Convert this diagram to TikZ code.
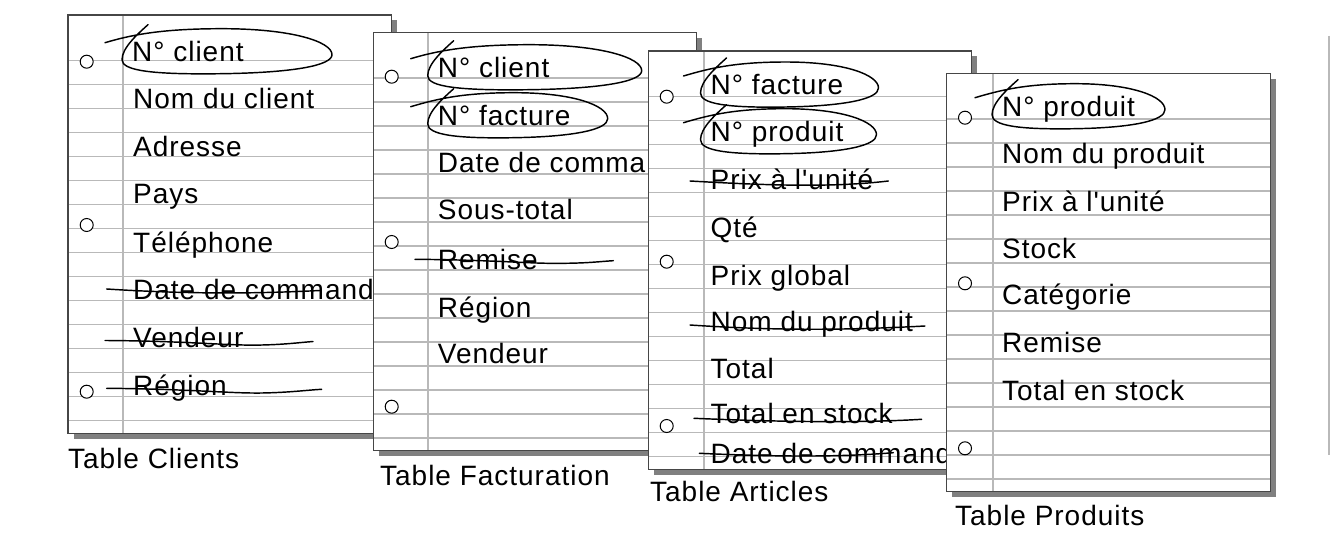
\documentclass[tikz,border=0pt]{standalone}
\usepackage{fontspec}
\setmainfont[LetterSpace=3.5, Ligatures=TeXOff]{Liberation Sans}
\definecolor{rulec}{RGB}{185,185,185}
\definecolor{shadowc}{RGB}{128,128,128}
\definecolor{edgec}{RGB}{70,70,70}
\tikzset{
  ruleline/.style={draw=rulec, line width=1.8pt},
  edgeline/.style={draw=edgec, line width=1.1pt},
  hole/.style={draw=black, fill=white, line width=1pt},
  txt/.style={anchor=base west, inner sep=0pt, font=\fontsize{28}{32}\selectfont},
  pen/.style={draw=black, line width=1.45pt, line cap=round, line join=round},
}
\newcommand\papersheet[4]{%
  \fill[shadowc] (#1+5.5,#2+5.5) rectangle (#1+329,#2+424);
  \fill[white] (#1,#2) rectangle (#1+323.5,#2+418.5);
  \foreach \k in {0,...,15} {\draw[ruleline] (#1,#2+45.5+24*\k) -- (#1+323.5,#2+45.5+24*\k);}
  \draw[ruleline] (#3,#2) -- (#3,#2+418.5);
  \draw[edgeline] (#1,#2) rectangle (#1+323.5,#2+418.5);
  \coordinate (#4) at (#1,#2);
}
\newcommand\keyloop[3]{%
  \draw[pen, shift={(#1,#2)}] (-27,-19) .. controls (0,-27) and ({0.15*#3},-33) .. ({0.45*#3},-33)
    .. controls ({0.8*#3},-33) and (#3,-20) .. (#3,-7)
    .. controls (#3,4) and ({0.8*#3},11) .. ({0.45*#3},12)
    .. controls ({0.1*#3},13) and (-10,9) .. (-10,-2)
    .. controls (-10,-14) and (6,-28) .. (16,-37);
}
\begin{document}
\begin{tikzpicture}[x=1pt,y=-1pt]
\useasboundingbox (0,0) rectangle (1342,540);
\fill[white] (0,0) rectangle (1342,540);

% ---------- Sheet 1 : Clients
\papersheet{68}{15}{123}{sh1}
\foreach \yy in {61.7,225,391.7} {\draw[hole] (86.7,\yy) circle[radius=6.5];}
\node[txt] (c1) at (132,61.7) {N° client};
\node[txt] (c2) at (133,109) {Nom du client};
\node[txt] (c3) at (133,156.7) {Adresse};
\node[txt] (c4) at (133,203.5) {Pays};
\node[txt] (c5) at (133,252.7) {Téléphone};
\node[txt] (c6) at (133,300) {Date de commande};
\node[txt] (c7) at (133,347) {Vendeur};
\node[txt] (c8) at (133,395) {Région};
\keyloop{132}{61.7}{200}
\draw[pen] (106.7,289) .. controls (200,295) and (270,293) .. (320,290.5);
\draw[pen] (105,340.5) .. controls (190,341) and (230,346) .. (262,345) .. controls (285,344.5) and (300,342.5) .. (313,341.5);
\draw[pen] (106.7,388.3) .. controls (190,389) and (230,393.5) .. (262,393) .. controls (290,392.5) and (308,390) .. (321.7,389.3);

% ---------- Sheet 2 : Facturation
\papersheet{373.3}{32.3}{428.3}{sh2}
\foreach \yy in {76.7,242,406.7} {\draw[hole] (391.7,\yy) circle[radius=6.5];}
\node[txt] (f1) at (437.7,77.7) {N° client};
\node[txt] (f2) at (437.7,125.7) {N° facture};
\node[txt] (f3) at (437.7,172.7) {Date de commande};
\node[txt] (f4) at (437.7,220) {Sous-total};
\node[txt] (f5) at (437.7,269.3) {Remise};
\node[txt] (f6) at (437.7,317.3) {Région};
\node[txt] (f7) at (437.7,363.3) {Vendeur};
\keyloop{437.7}{77.7}{204}
\keyloop{437.7}{125.7}{170}
\draw[pen] (415,259.3) .. controls (500,260) and (530,264) .. (565,263.3) .. controls (590,263) and (600,261.5) .. (613.3,260.7);

% ---------- Sheet 3 : Articles
\papersheet{648.3}{51}{704}{sh3}
\foreach \yy in {96.7,261.7,426} {\draw[hole] (666.7,\yy) circle[radius=6.5];}
\node[txt] (a1) at (710.5,95) {N° facture};
\node[txt] (a2) at (710.5,141.7) {N° produit};
\node[txt] (a3) at (710.5,190) {Prix à l'unité};
\node[txt] (a4) at (710.5,237.7) {Qté};
\node[txt] (a5) at (710.5,286) {Prix global};
\node[txt] (a6) at (710.5,331.7) {Nom du produit};
\node[txt] (a7) at (710.5,378.3) {Total};
\node[txt] (a8) at (710.5,423.3) {Total en stock};
\node[txt] (a9) at (710.5,463) {Date de commande};
\keyloop{710.5}{95}{168}
\keyloop{710.5}{141.7}{166}
\draw[pen] (690,181) .. controls (760,185) and (830,188) .. (888.3,181);
\draw[pen] (690,325) .. controls (780,331) and (850,330) .. (925,326);
\draw[pen] (694,418.3) .. controls (780,422) and (860,423) .. (921.7,419.3);
\draw[pen] (699.3,453.3) .. controls (760,456) and (830,458) .. (893.3,452.7);

% ---------- Sheet 4 : Produits
\papersheet{946.7}{73.3}{992.7}{sh4}
\foreach \yy in {117.7,283.3,448.3} {\draw[hole] (965,\yy) circle[radius=6.5];}
\node[txt] (p1) at (1002,116.7) {N° produit};
\node[txt] (p2) at (1002,163.3) {Nom du produit};
\node[txt] (p3) at (1002,211.7) {Prix à l'unité};
\node[txt] (p4) at (1002,258.3) {Stock};
\node[txt] (p5) at (1002,305) {Catégorie};
\node[txt] (p6) at (1002,352.7) {Remise};
\node[txt] (p7) at (1002,400.7) {Total en stock};
\keyloop{1002}{116.7}{163}

% ---------- Labels
\node[txt] (l1) at (68,468) {Table Clients};
\node[txt] (l2) at (380,485) {Table Facturation};
\node[txt] (l3) at (650,501.7) {Table Articles};
\node[txt] (l4) at (955,525) {Table Produits};

% ---------- right rule
\coordinate (vt) at (1329,36);
\coordinate (vb) at (1329,455);
\draw[draw=rulec, line width=2pt] (vt) -- (vb);
\end{tikzpicture}
\end{document}
